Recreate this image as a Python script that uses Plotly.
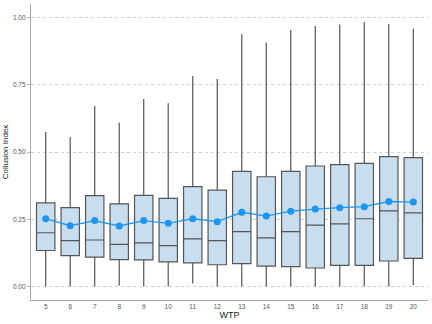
import plotly.graph_objects as go

# values
wtp = [5, 6, 7, 8, 9, 10, 11, 12, 13, 14, 15, 16, 17, 18, 19, 20]
q1 = [0.134, 0.115, 0.109, 0.100, 0.099, 0.092, 0.088, 0.081, 0.085, 0.076, 0.074, 0.069, 0.079, 0.079, 0.095, 0.105]
medians = [0.200, 0.171, 0.173, 0.157, 0.162, 0.152, 0.177, 0.171, 0.204, 0.181, 0.204, 0.228, 0.233, 0.252, 0.281, 0.274]
q3 = [0.311, 0.293, 0.338, 0.307, 0.339, 0.328, 0.371, 0.358, 0.428, 0.408, 0.428, 0.448, 0.453, 0.458, 0.483, 0.479]
lower = [0.0, 0.0, 0.0, 0.003, 0.0, 0.0, 0.011, 0.0, 0.0, 0.0, 0.0, 0.0, 0.0, 0.0, 0.0, 0.005]
upper = [0.574, 0.556, 0.671, 0.610, 0.697, 0.681, 0.782, 0.771, 0.938, 0.907, 0.953, 0.968, 0.974, 0.983, 0.976, 0.958]
means = [0.252, 0.226, 0.245, 0.225, 0.245, 0.235, 0.252, 0.241, 0.276, 0.262, 0.280, 0.288, 0.293, 0.297, 0.316, 0.314]

fig = go.Figure()

fig.add_trace(go.Box(
    x=wtp, q1=q1, median=medians, q3=q3,
    lowerfence=lower, upperfence=upper,
    width=0.75, whiskerwidth=0,
    fillcolor="#c8deef",
    line=dict(color="#555555", width=1.2),
    boxpoints=False, hoverinfo="skip",
    showlegend=False,
))

fig.add_trace(go.Scatter(
    x=wtp, y=means, mode="lines+markers",
    line=dict(color="#1e96f0", width=1.3),
    marker=dict(color="#1e96f0", size=7),
    showlegend=False,
))

fig.update_layout(
    width=432, height=324,
    margin=dict(l=31, r=4, t=4, b=24),
    paper_bgcolor="white", plot_bgcolor="white",
    font=dict(family="Liberation Sans, Arial, sans-serif", color="#222"),
    xaxis=dict(
        title=dict(text="WTP", font=dict(size=9, color="#222"), standoff=2),
        range=[4.4, 20.6], tickmode="array", tickvals=wtp,
        ticktext=[str(w) for w in wtp],
        tickfont=dict(size=6.5, color="#555"),
        showgrid=False, zeroline=False,
        showline=True, linecolor="#aaaaaa", linewidth=1.2,
        ticks="", ticklen=0,
    ),
    yaxis=dict(
        title=dict(text="Collusion Index", font=dict(size=8, color="#222"), standoff=3),
        range=[-0.05, 1.05], tickvals=[0, 0.25, 0.5, 0.75, 1.0],
        ticktext=["0.00", "0.25", "0.50", "0.75", "1.00"],
        tickfont=dict(size=6.5, color="#555"),
        showgrid=True, gridcolor="#d0d0d0", griddash="3px,3px", gridwidth=1,
        zeroline=False,
        showline=True, linecolor="#aaaaaa", linewidth=1.2,
        ticks="outside", ticklen=3, tickcolor="#bbbbbb",
    ),
)

# drop the page's default body margin so the figure sits at the window's corner
fig.write_html("out.html", config={"displayModeBar": False},
               post_script="document.body.style.margin='0';")
